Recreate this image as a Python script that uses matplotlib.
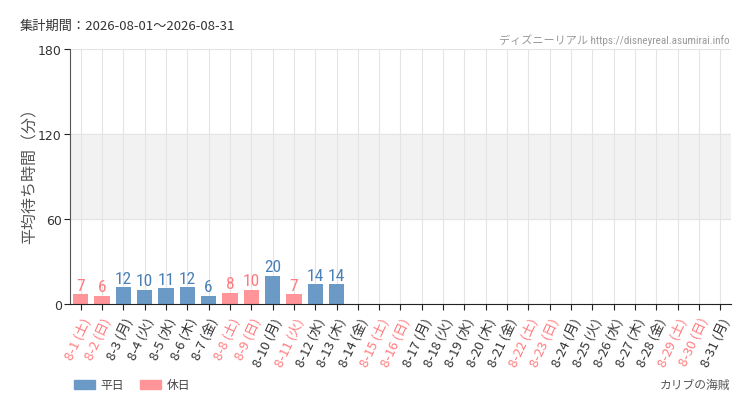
import matplotlib
matplotlib.use("Agg")
import matplotlib.pyplot as plt
from matplotlib.patches import Patch
from matplotlib import font_manager as fm

plt.rcParams['font.family'] = ['Noto Sans CJK JP', 'DejaVu Sans']

days = [f"8-{d}" for d in range(1, 32)]
weekdays = ["土", "日", "月", "火", "水", "木", "金"]
dow = [weekdays[i % 7] for i in range(31)]
holiday_days = [11]
values = [7, 6, 12, 10, 11, 12, 6, 8, 10, 20, 7, 14, 14] + [None] * 18

is_holiday = [(dow[i] in ("土", "日")) or (i + 1 in holiday_days) for i in range(31)]
labels = [f"{days[i]} ({dow[i]})" for i in range(31)]

C_WK = "#6b9ac6"
C_HD = "#ff9598"
T_WK = "#4a80b8"
T_HD = "#ff7b7e"

names = {f.name for f in fm.fontManager.ttflist}
cond = None
for cand in ["Liberation Sans Narrow", "Roboto Condensed", "DejaVu Sans Condensed"]:
    if cand in names:
        cond = cand
        break
if cond is None:
    cond = "DejaVu Sans"

fig = plt.figure(figsize=(7.5, 4.1), dpi=100)
fig.patch.set_facecolor("white")
ax = fig.add_axes([0.0933, 0.256, 0.8814, 0.622])

x = list(range(31))
ax.axhspan(60, 120, color="#f2f2f2", zorder=0)
for xi in x:
    ax.axvline(xi, color="#e4e4e4", lw=0.8, zorder=0.5)
for yv in [60, 120, 180]:
    ax.axhline(yv, color="#e4e4e4", lw=0.8, zorder=0.5)

for i, v in enumerate(values):
    if v is None:
        continue
    c = C_HD if is_holiday[i] else C_WK
    tc = T_HD if is_holiday[i] else T_WK
    ax.bar(i, v, width=0.72, color=c, zorder=2)
    ax.text(i, v + 1.0, str(v), ha="center", va="bottom", color=tc,
            fontsize=12.5, family=[cond, "DejaVu Sans"], zorder=3)

ax.set_xlim(-0.5, 30.5)
ax.set_ylim(0, 180)
ax.set_yticks([0, 60, 120, 180])
ax.set_yticklabels(["0", "60", "120", "180"], fontsize=9, color="#333333",
                   family=["DejaVu Sans"])
ax.set_xticks(x)
ax.set_xticklabels(labels, rotation=65, ha="right", va="top",
                   rotation_mode="anchor", fontsize=9.5)
for lbl, h in zip(ax.get_xticklabels(), is_holiday):
    lbl.set_color(T_HD if h else "#333333")
ax.tick_params(axis="x", length=4, color="#222222", pad=4)
ax.tick_params(axis="y", length=4, color="#222222", pad=2)

for s in ["top", "right"]:
    ax.spines[s].set_visible(False)
ax.spines["left"].set_color("#555555")
ax.spines["bottom"].set_color("#222222")

ax.set_ylabel("平均待ち時間（分）", fontsize=11.5, color="#555555")
ax.yaxis.set_label_coords((39 - 70) / 661, 0.52)

fig.text(20 / 750, 1 - 26 / 410, "集計期間：2026-08-01～2026-08-31", fontsize=9.5,
         color="#333333", ha="left", va="center")
fig.text(730 / 750, 1 - 40 / 410, "ディズニーリアル https://disneyreal.asumirai.info",
         fontsize=8, color="#999999", ha="right", va="center",
         family=[cond, "Noto Sans CJK JP", "DejaVu Sans"])
fig.text(730 / 750, 1 - 385 / 410, "カリブの海賊", fontsize=8.5, color="#555555",
         ha="right", va="center")

handles = [Patch(color=C_WK, label="平日"), Patch(color=C_HD, label="休日")]
fig.legend(handles=handles, loc="center left", bbox_to_anchor=(63 / 750, 1 - 386 / 410),
           ncol=2, frameon=False, fontsize=8.5, handlelength=1.8, handleheight=0.9,
           columnspacing=1.4, handletextpad=0.45, labelcolor="#444444")

fig.savefig("out.png", dpi=100)
